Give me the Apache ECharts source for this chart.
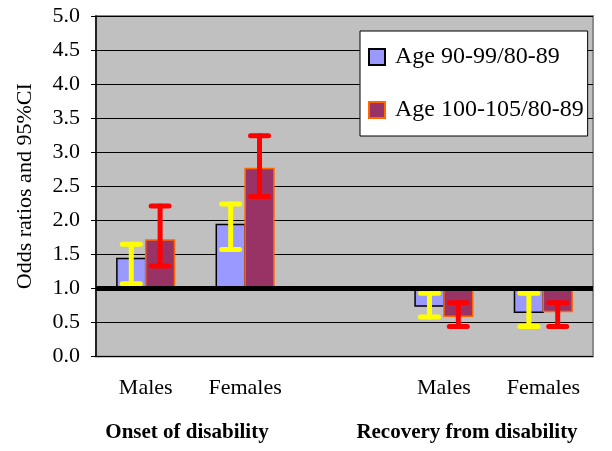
<!DOCTYPE html>
<html>
<head>
<meta charset="utf-8">
<script src="https://cdn.jsdelivr.net/npm/echarts@6/dist/echarts.min.js"></script>
<style>html,body{margin:0;padding:0;background:#fff;}#c{width:612px;height:451px;}</style>
</head>
<body>
<div id="c"></div>
<script>
const categories = ['Males', 'Females', '', 'Males', 'Females'];
const groupLabels = ['Onset of disability', 'Recovery from disability'];
const seriesNames = ['Age 90-99/80-89', 'Age 100-105/80-89'];
const or90 = [1.44, 1.94, null, 0.74, 0.65];
const lo90 = [1.07, 1.57, null, 0.58, 0.44];
const hi90 = [1.65, 2.24, null, 0.93, 0.93];
const or100 = [1.71, 2.76, null, 0.59, 0.66];
const lo100 = [1.33, 2.35, null, 0.44, 0.44];
const hi100 = [2.21, 3.24, null, 0.79, 0.79];
const baseline = 1.0;

const FONT = '"Liberation Serif", "Times New Roman", serif';
const BAR_FRAC = 0.29;

function rows(v, lo, hi) {
  return categories.map((c, i) => [i, v[i], lo[i], hi[i]]).filter(r => r[1] != null);
}

function makeSeries(name, idx, v, lo, hi, fill, border, errColor) {
  return {
    name: name,
    type: 'custom',
    data: rows(v, lo, hi),
    encode: { x: 0, y: 1 },
    itemStyle: { color: fill, borderColor: border, borderWidth: 1.5 },
    z: 3 + idx,
    renderItem: function (params, api) {
      const xi = api.value(0);
      const val = api.value(1);
      const l = api.value(2), h = api.value(3);
      const bw = api.size([1, 0])[0] * BAR_FRAC;
      const pTop = api.coord([xi, val]);
      const pBase = api.coord([xi, baseline]);
      const cx = pTop[0] + (idx === 0 ? -bw / 2 : bw / 2);
      const x0 = cx - bw / 2;
      const y0 = Math.min(pTop[1], pBase[1]);
      const hh = Math.abs(pTop[1] - pBase[1]);
      const pl = api.coord([xi, l])[1];
      const ph = api.coord([xi, h])[1];
      const cap = 9;
      const errStyle = { stroke: errColor, lineWidth: 5, lineCap: 'round' };
      return {
        type: 'group',
        children: [
          { type: 'rect', shape: { x: x0, y: y0, width: bw, height: hh },
            style: { fill: fill, stroke: border, lineWidth: 1.5 } },
          { type: 'line', shape: { x1: cx, y1: pl, x2: cx, y2: ph }, style: errStyle, z2: 10 },
          { type: 'line', shape: { x1: cx - cap, y1: pl, x2: cx + cap, y2: pl }, style: errStyle, z2: 10 },
          { type: 'line', shape: { x1: cx - cap, y1: ph, x2: cx + cap, y2: ph }, style: errStyle, z2: 10 }
        ]
      };
    }
  };
}

const chart = echarts.init(document.getElementById('c'), null, { renderer: 'canvas' });
const s1 = makeSeries(seriesNames[0], 0, or90, lo90, hi90, '#9999ff', '#000000', '#ffff00');
const s2 = makeSeries(seriesNames[1], 1, or100, lo100, hi100, '#993366', '#ff6600', '#ff0000');
s1.markLine = {
  silent: true, symbol: 'none', label: { show: false },
  lineStyle: { color: '#000', width: 5, type: 'solid' },
  data: [{ yAxis: baseline }],
  z: 10
};

chart.setOption({
  animation: false,
  backgroundColor: '#ffffff',
  textStyle: { fontFamily: FONT, color: '#000' },
  grid: {
    left: 96, right: 19, top: 16, bottom: 94.5,
    show: true, backgroundColor: '#c0c0c0', borderColor: '#8a8a8a', borderWidth: 2
  },
  legend: {
    orient: 'vertical',
    left: 360, top: 31,
    backgroundColor: '#ffffff',
    borderColor: '#000', borderWidth: 1,
    padding: [14, 4, 14, 8],
    itemWidth: 16, itemHeight: 16, itemGap: 29,
    icon: 'rect',
    textStyle: { fontFamily: FONT, fontSize: 24, color: '#000', lineHeight: 22, padding: [0, 0, 0, 5] },
    data: seriesNames
  },
  xAxis: {
    type: 'category',
    data: categories,
    axisLine: { show: false },
    axisTick: { show: false },
    axisLabel: { fontFamily: FONT, fontSize: 22, color: '#000', margin: 21 },
    splitLine: { show: false }
  },
  yAxis: {
    type: 'value',
    min: 0, max: 5, interval: 0.5,
    name: 'Odds ratios and 95%CI',
    nameLocation: 'middle',
    nameGap: 60,
    nameTextStyle: { fontFamily: FONT, fontSize: 22, color: '#000' },
    axisLine: { show: true, lineStyle: { color: '#000', width: 1.5 } },
    axisTick: { show: true, inside: false, length: 5, lineStyle: { color: '#000' } },
    axisLabel: { fontFamily: FONT, fontSize: 22, color: '#000', margin: 16,
      formatter: v => v.toFixed(1) },
    splitLine: { show: true, lineStyle: { color: '#000', width: 1 } }
  },
  graphic: [
    { type: 'text', position: [187, 433], style: { text: groupLabels[0], font: 'bold 21px ' + FONT,
      fill: '#000', textAlign: 'center', textVerticalAlign: 'middle' } },
    { type: 'text', position: [467, 433], style: { text: groupLabels[1], font: 'bold 21px ' + FONT,
      fill: '#000', textAlign: 'center', textVerticalAlign: 'middle' } }
  ],
  series: [s1, s2]
});
</script>
</body>
</html>
